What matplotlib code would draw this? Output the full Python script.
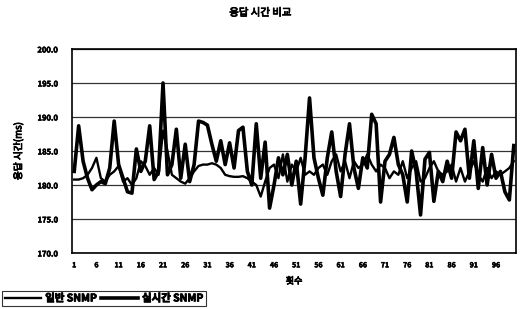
import numpy as np
import matplotlib
matplotlib.use("Agg")
from matplotlib import pyplot as plt
from matplotlib import patheffects as pe

plt.rcParams['font.family'] = ['Noto Sans CJK KR', 'DejaVu Sans']
plt.rcParams['font.weight'] = 'bold'

# 횟수 1..100
runs = list(range(1, 101))

# 일반 SNMP (smoother series)
normal_snmp = [
    180.8, 180.8, 181.0, 181.5, 182.5, 184.0, 181.0, 180.5, 181.5, 182.0,
    182.8, 180.5, 181.0, 180.0, 181.0, 183.5, 182.8, 181.5, 182.5, 181.5,
    188.0, 185.0, 181.5, 181.0, 180.5, 180.2, 181.0, 182.0, 182.8, 183.0,
    183.0, 183.2, 183.0, 182.5, 181.5, 181.3, 181.2, 181.2, 181.3, 181.0,
    180.5, 180.0, 178.3, 180.5, 182.5, 183.0, 181.0, 184.5, 180.5, 183.0,
    182.0, 184.0, 181.5, 182.0, 181.5, 182.5, 183.0, 181.5, 183.5, 184.5,
    182.0, 183.5, 181.0, 183.5, 182.5, 183.0, 184.5, 183.0, 182.0, 183.0,
    182.5, 181.0, 182.0, 181.5, 183.5, 181.0, 182.5, 183.5, 180.5, 181.0,
    182.5, 183.5, 182.0, 181.5, 182.0, 183.0, 180.5, 182.5, 180.5, 182.0,
    183.5, 181.5, 180.5, 182.5, 181.0, 182.0, 181.5, 182.0, 182.5, 183.5,
]

# 실시간 SNMP (spiky series)
realtime_snmp = [
    182.0, 188.7, 183.5, 181.0, 179.3, 180.0, 180.5, 180.2, 182.5, 189.4,
    183.0, 181.0, 179.0, 178.8, 185.3, 182.0, 183.5, 188.7, 180.8, 182.0,
    195.0, 181.5, 183.0, 188.2, 181.0, 186.0, 180.5, 183.0, 189.4, 189.2,
    188.8, 186.0, 183.5, 186.5, 183.0, 186.2, 182.5, 188.0, 188.5, 182.0,
    180.0, 189.0, 181.0, 186.3, 176.6, 180.0, 184.0, 181.5, 184.5, 180.0,
    183.5, 177.2, 184.0, 192.8, 184.0, 181.0, 178.5, 184.0, 187.8, 182.0,
    178.3, 184.5, 189.0, 182.5, 179.5, 184.0, 182.5, 190.4, 189.0, 177.5,
    183.5, 184.5, 187.0, 183.0, 181.5, 177.5, 185.0, 182.0, 175.6, 183.8,
    184.8, 177.6, 182.0, 180.5, 183.5, 181.0, 187.8, 186.5, 188.2, 181.0,
    186.5, 179.5, 185.5, 180.0, 184.5, 181.0, 182.0, 179.0, 177.8, 185.8,
]

bold = [pe.withStroke(linewidth=0.6, foreground="black")]

fig = plt.figure(figsize=(5.21, 3.09), dpi=100)
ax = fig.add_axes([72 / 521, 1 - 253 / 309, 444 / 521, 204 / 309])

x = np.arange(len(runs))
ax.plot(x, normal_snmp, color="black", lw=1.7, label="일반 SNMP")
ax.plot(x, realtime_snmp, color="black", lw=2.6, label="실시간 SNMP")

ax.set_xlim(-0.5, len(runs) - 0.5)
ax.set_ylim(170, 200)
ax.set_yticks(np.arange(170, 201, 5))
ax.set_yticklabels([f"{v:.1f}" for v in np.arange(170, 201, 5)])
ax.set_xticks(x[::5])
ax.set_xticklabels([str(r) for r in runs[::5]])
ax.tick_params(axis="y", length=0, pad=10, labelsize=5.5)
ax.tick_params(axis="x", length=0, pad=6, labelsize=5)
for lab in ax.get_xticklabels() + ax.get_yticklabels():
    lab.set_path_effects([pe.withStroke(linewidth=0.4, foreground="black")])
ax.yaxis.grid(True, color="#333333", lw=0.9)
ax.set_axisbelow(True)
for s in ax.spines.values():
    s.set_linewidth(1.2)
    s.set_color("black")

ax.set_ylabel("응답 시간(ms)", fontsize=7, labelpad=10, path_effects=bold)
ax.set_xlabel("횟수", fontsize=6.5, labelpad=6, path_effects=bold)
fig.suptitle("응답 시간 비교", fontsize=7.5, y=0.975, x=0.5, path_effects=bold)

leg = fig.legend(loc="lower left", bbox_to_anchor=(2 / 521, 3 / 309), ncol=2,
                 frameon=True, fancybox=False, edgecolor="black", fontsize=7.5,
                 handlelength=3.5, handletextpad=0.4, columnspacing=0.4,
                 borderpad=0.25, borderaxespad=0)
leg.get_frame().set_linewidth(0.8)
for t in leg.get_texts():
    t.set_path_effects(bold)

fig.savefig("out.png", dpi=100)
